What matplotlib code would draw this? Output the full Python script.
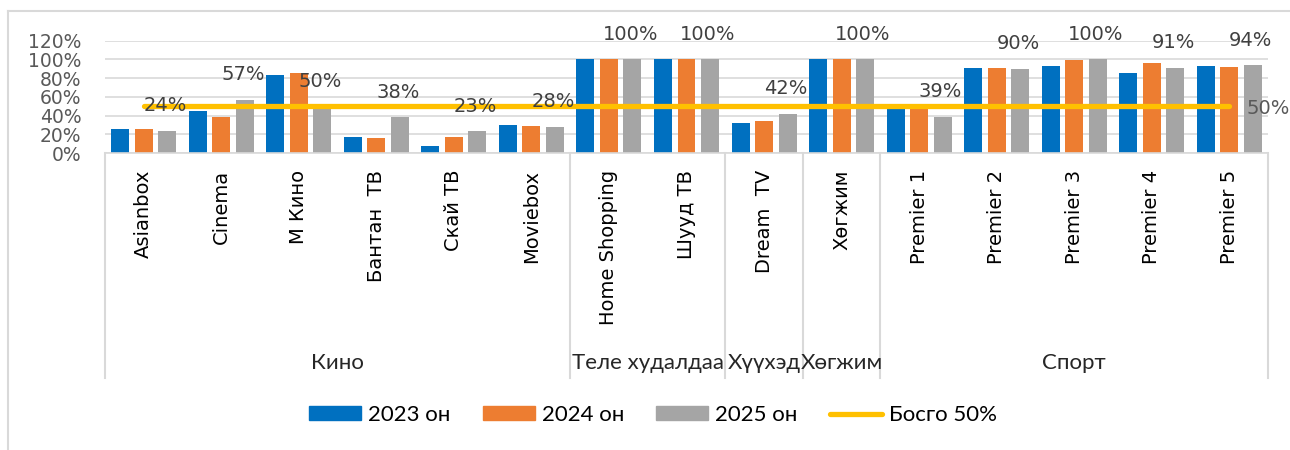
import numpy as np
import matplotlib
matplotlib.use('Agg')
import matplotlib.pyplot as plt
from matplotlib.patches import Patch
from matplotlib.lines import Line2D
import matplotlib.transforms as mtransforms

# data
channels = ['Asianbox', 'Cinema', 'М Кино', 'Бантан  ТВ', 'Скай ТВ', 'Moviebox',
            'Home Shopping', 'Шууд ТВ', 'Dream  TV', 'Хөгжим',
            'Premier 1', 'Premier 2', 'Premier 3', 'Premier 4', 'Premier 5']
groups = ['Кино', 'Теле худалдаа', 'Хүүхэд', 'Хөгжим', 'Спорт']
group_sizes = [6, 2, 1, 1, 5]
y2023 = [0.26, 0.45, 0.83, 0.17, 0.07, 0.30, 1.00, 1.00, 0.32, 1.00, 0.49, 0.91, 0.93, 0.86, 0.93]
y2024 = [0.26, 0.38, 0.85, 0.16, 0.17, 0.29, 1.00, 1.00, 0.34, 1.00, 0.50, 0.91, 0.99, 0.96, 0.92]
y2025 = [0.24, 0.57, 0.50, 0.38, 0.23, 0.28, 1.00, 1.00, 0.42, 1.00, 0.39, 0.90, 1.00, 0.91, 0.94]
threshold = [0.5] * len(channels)
yticks = [0, 0.2, 0.4, 0.6, 0.8, 1.0, 1.2]

c_blue, c_orange, c_gray, c_yellow = '#0070C0', '#ED7D31', '#A5A5A5', '#FFC000'
narrow = ['Lato', 'DejaVu Sans']

fig = plt.figure(figsize=(12.9, 4.5), dpi=100)
ax = fig.add_axes([105/1290, 1-153/450, (1268-105)/1290, (153-40.7)/450])

x = np.arange(len(channels))
w = 0.232
step = 0.303
ax.bar(x - step, y2023, w, color=c_blue, zorder=2)
ax.bar(x, y2024, w, color=c_orange, zorder=2)
ax.bar(x + step, y2025, w, color=c_gray, zorder=2)
ax.plot(x, threshold, color=c_yellow, lw=3.8, solid_capstyle='round', zorder=3)

# labels of the 2025 series
for xi, v in zip(x, y2025):
    ax.annotate(f'{v*100:.0f}%', (xi + step, v), xytext=(-2, 25), textcoords='offset pixels',
                ha='center', va='center', fontsize=14, color='#404040', zorder=4)
ax.annotate('50%', (x[-1], threshold[-1]), xytext=(17, -2), textcoords='offset pixels',
            ha='left', va='center', fontsize=14, color='#595959')

ax.set_xlim(-0.5, len(channels) - 0.5)
ax.set_ylim(0, 1.2)
ax.set_yticks(yticks)
ax.set_yticklabels([f'{t*100:.0f}%' for t in yticks], fontsize=13.5, color='#595959')
ax.tick_params(axis='y', length=0, pad=17)
ax.tick_params(axis='x', length=0, labelbottom=False)
ax.grid(axis='y', color='#d9d9d9', lw=1.2, zorder=0)
for s in ['left', 'right', 'top']:
    ax.spines[s].set_visible(False)
ax.spines['bottom'].set_color('#d9d9d9')
ax.spines['bottom'].set_linewidth(1.2)

trans = mtransforms.blended_transform_factory(ax.transData, ax.transAxes)
for xi, name in zip(x, channels):
    ax.text(xi, -0.151, name, rotation=90, ha='center', va='top', fontsize=14,
            color='black', transform=trans)

edges = np.concatenate([[0], np.cumsum(group_sizes)]) - 0.5
for e in edges:
    ax.plot([e, e], [0, -2.0], color='#d9d9d9', lw=1.5, transform=trans, clip_on=False)
for g, a, b in zip(groups, edges[:-1], edges[1:]):
    ax.text((a + b) / 2, -1.87, g, ha='center', va='center', fontsize=16,
            family=narrow, color='#262626', transform=trans)

# outer chart border
fig.add_artist(Line2D([7.5/1290, 7.5/1290], [0, 1-10.5/450], color='#d9d9d9', lw=1.5))
fig.add_artist(Line2D([7.5/1290, 1], [1-10.5/450, 1-10.5/450], color='#d9d9d9', lw=1.5))

handles = [Patch(color=c_blue), Patch(color=c_orange), Patch(color=c_gray),
           Line2D([0], [0], color=c_yellow, lw=3.8, solid_capstyle='round')]
labels = ['2023 он', '2024 он', '2025 он', 'Босго 50%']
fig.legend(handles, labels, loc='center', bbox_to_anchor=(653/1290, 1-415/450), ncol=4,
           frameon=False, prop={'family': narrow, 'size': 16}, handlelength=2.34,
           handleheight=0.6, handletextpad=0.32, columnspacing=1.44)

fig.savefig('out.png', dpi=100)
